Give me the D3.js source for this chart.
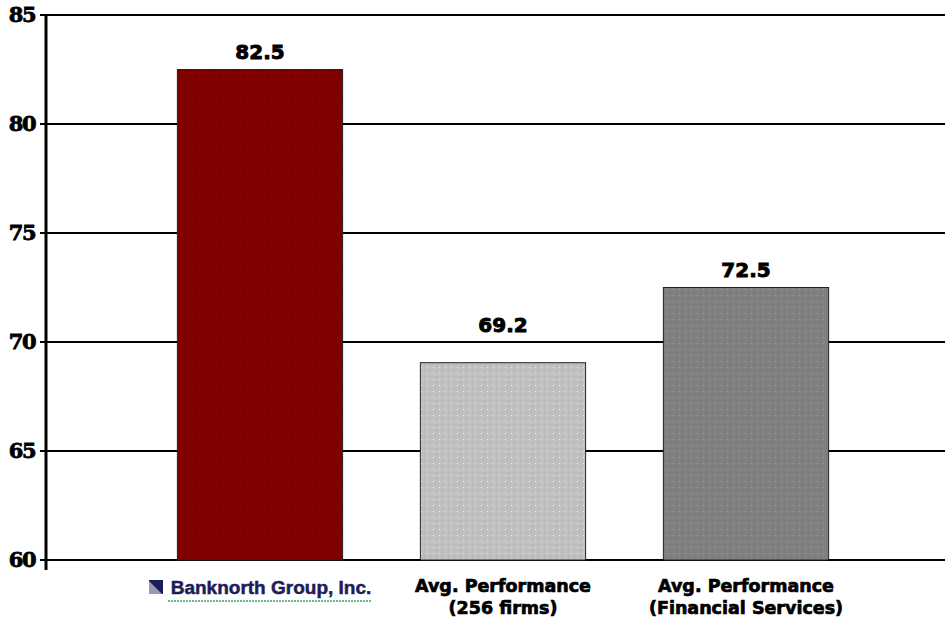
<!DOCTYPE html>
<html>
<head>
<meta charset="utf-8">
<script src="https://cdn.jsdelivr.net/npm/d3@7"></script>
<style>
  body { margin: 0; background: #fff; }
  svg { display: block; }
</style>
</head>
<body>
<div id="chart"></div>
<script>
// chart data
var categories = ["Banknorth", "Avg256", "AvgFin"];
var values = [82.5, 69.05, 72.5];
var valueLabels = ["82.5", "69.2", "72.5"];
var categoryLines = [
    ["Banknorth Group, Inc."],
    ["Avg. Performance", "(256 firms)"],
    ["Avg. Performance", "(Financial Services)"]
];
var yTicks = [60, 65, 70, 75, 80, 85];

var svgWidth = 945, svgHeight = 625;
var fills = ["#800000", "#c0c0c0", "#808080"];

var svg = d3.select("#chart").append("svg")
    .attr("width", svgWidth).attr("height", svgHeight);

// dotted textures like the original
var defs = svg.append("defs");
fills.forEach(function (c, i) {
    var p = defs.append("pattern")
        .attr("id", "pat" + i)
        .attr("width", 6).attr("height", 6)
        .attr("patternUnits", "userSpaceOnUse");
    p.append("rect").attr("width", 6).attr("height", 6).attr("fill", c);
    p.append("rect").attr("x", 1).attr("y", 1).attr("width", 1).attr("height", 1)
        .attr("fill", d3.color(c).brighter(0.6));
    p.append("rect").attr("x", 4).attr("y", 4).attr("width", 1).attr("height", 1)
        .attr("fill", d3.color(c).darker(0.4));
});

var yScale = d3.scaleLinear().domain([60, 85]).range([560, 15]);
var xScale = d3.scaleBand().domain(categories)
    .range([138.5, 867.5]).paddingInner(0.32).paddingOuter(0.16);

// gridlines
svg.append("g").selectAll("line").data(yTicks).enter().append("line")
    .attr("x1", 40).attr("x2", svgWidth)
    .attr("y1", d => yScale(d)).attr("y2", d => yScale(d))
    .attr("stroke", "#000").attr("stroke-width", 2);

// y axis
var yAxis = d3.axisLeft(yScale).tickValues(yTicks).tickSize(0).tickPadding(11);
var yG = svg.append("g").attr("transform", "translate(46,0)").call(yAxis);
yG.select(".domain").remove();
yG.selectAll("text")
    .attr("font-family", "DejaVu Serif, serif")
    .attr("font-weight", "bold")
    .attr("font-size", 21)
    .attr("letter-spacing", -1.5)
    .attr("stroke", "#000").attr("stroke-width", 0.8)
    .attr("fill", "#000");
svg.append("line")
    .attr("x1", 46).attr("x2", 46)
    .attr("y1", yScale(85)).attr("y2", yScale(60) + 10)
    .attr("stroke", "#000").attr("stroke-width", 3);

// bars
svg.append("g").selectAll("rect").data(values).enter().append("rect")
    .attr("x", (d, i) => xScale(categories[i]))
    .attr("y", d => yScale(d))
    .attr("width", xScale.bandwidth())
    .attr("height", d => yScale(60) - yScale(d))
    .attr("fill", (d, i) => "url(#pat" + i + ")")
    .attr("stroke", "#222").attr("stroke-width", 1);

// label y: 11px above bar, nudged above a gridline if it would cross one
function labelY(d) {
    var y = yScale(d) - 11;
    yTicks.forEach(function (t) {
        var gy = yScale(t);
        if (gy > y - 18 && gy < y + 3) y = gy - 10;
    });
    return y;
}

// value labels
svg.append("g").selectAll("text").data(values).enter().append("text")
    .attr("x", (d, i) => xScale(categories[i]) + xScale.bandwidth() / 2)
    .attr("y", d => labelY(d))
    .attr("text-anchor", "middle")
    .attr("font-family", "DejaVu Sans, sans-serif")
    .attr("font-weight", "bold")
    .attr("font-size", 20)
    .attr("stroke", "#000").attr("stroke-width", 0.9)
    .text((d, i) => valueLabels[i]);

// category labels
var catG = svg.append("g");
categoryLines.forEach(function (lines, i) {
    var cx = xScale(categories[i]) + xScale.bandwidth() / 2;
    if (i === 0) {
        // Banknorth logo
        var g = catG.append("g");
        g.append("rect").attr("x", cx - 111).attr("y", 580).attr("width", 14).attr("height", 14)
            .attr("fill", "#1c1c5a");
        g.append("path")
            .attr("d", `M${cx - 111},${581} L${cx - 98},${594} L${cx - 111},${594} Z`)
            .attr("fill", "#9a9ab8");
        g.append("text")
            .attr("x", cx + 11).attr("y", 594)
            .attr("text-anchor", "middle")
            .attr("font-family", "Liberation Sans, Arial, sans-serif")
            .attr("font-weight", "bold")
            .attr("font-size", 19)
            .attr("stroke", "#1c1c5a").attr("stroke-width", 0.5)
            .attr("fill", "#1c1c5a")
            .text(lines[0]);
        g.append("line")
            .attr("x1", cx - 92).attr("x2", cx + 112)
            .attr("y1", 601).attr("y2", 601)
            .attr("stroke", "#3aa070").attr("stroke-width", 1.5)
            .attr("stroke-dasharray", "2,1");
    } else {
        lines.forEach(function (t, j) {
            catG.append("text")
                .attr("x", cx).attr("y", 592 + j * 22)
                .attr("text-anchor", "middle")
                .attr("font-family", "DejaVu Sans, sans-serif")
                .attr("font-weight", "bold")
                .attr("font-size", 17.5)
                .attr("stroke", "#000").attr("stroke-width", 0.7)
                .text(t);
        });
    }
});
</script>
</body>
</html>
